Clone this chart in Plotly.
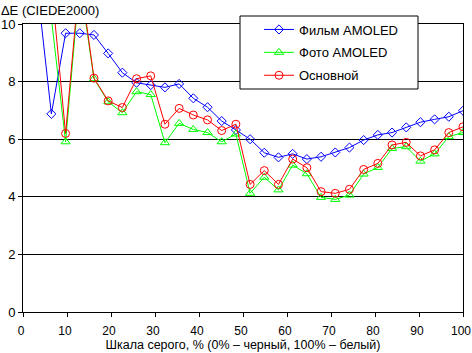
import plotly.graph_objects as go

x_vals = [100 * k / 31 for k in range(32)]

film_amoled = [12.0, 11.3, 6.88, 9.68, 9.68, 9.62, 8.98, 8.31, 7.96, 7.88,
               7.80, 7.92, 7.42, 7.11, 6.63, 6.32, 6.00, 5.53, 5.37, 5.49,
               5.31, 5.39, 5.54, 5.71, 5.97, 6.15, 6.23, 6.41, 6.59, 6.69,
               6.78, 6.99]
foto_amoled = [12.0, 12.0, 10.2, 5.91, 11.5, 8.10, 7.30, 6.92, 7.65, 7.55,
               5.88, 6.55, 6.34, 6.23, 5.91, 6.18, 4.12, 4.68, 4.24, 5.10,
               4.80, 3.98, 3.91, 4.06, 4.79, 5.02, 5.68, 5.74, 5.24, 5.49,
               6.09, 6.23]
osnovnoy = [12.0, 12.0, 11.4, 6.20, 11.7, 8.12, 7.33, 7.10, 8.10, 8.20,
            6.52, 7.07, 6.84, 6.67, 6.30, 6.52, 4.43, 4.91, 4.43, 5.31,
            5.01, 4.18, 4.12, 4.26, 4.95, 5.16, 5.80, 5.89, 5.42, 5.63,
            6.23, 6.43]

series = [
    ("Фильм AMOLED", film_amoled, "#0000FF", "diamond-open", 7),
    ("Фото AMOLED", foto_amoled, "#00FF00", "triangle-up-open", 8),
    ("Основной", osnovnoy, "#FF0000", "circle-open", 8),
]

fig = go.Figure()
for i, (name, vals, color, sym, size) in enumerate(series):
    fig.add_trace(go.Scatter(
        x=x_vals, y=vals, name=name, mode="lines+markers", legendgroup=f"g{i}",
        line=dict(color=color, width=1),
        marker=dict(symbol=sym, size=size, color=color, line=dict(color=color, width=1)),
    ))

font_family = "Liberation Sans, Arial, sans-serif"

L, R, T, B = 23, 9, 24, 41
W, H = 472, 353
pw, ph = W - L - R, H - T - B


def px_x(p):
    return (p - L) / pw


def px_y(p):
    return (H - B - p) / ph


fig.add_shape(type="rect", xref="paper", yref="paper",
              x0=px_x(240), x1=px_x(418), y0=px_y(89), y1=px_y(16),
              fillcolor="white", line=dict(color="black", width=1), layer="above")

fig.update_layout(
    width=W, height=H,
    margin=dict(l=L, r=R, t=T, b=B, autoexpand=False),
    paper_bgcolor="white", plot_bgcolor="white",
    font=dict(family=font_family, size=13, color="black"),
    title=dict(text="ΔE (CIEDE2000)", x=0.002, xref="container", xanchor="left",
               y=1 - 10 / 353, yref="container", yanchor="middle",
               font=dict(size=13, family=font_family, color="black")),
    showlegend=True,
    legend=dict(
        x=px_x(259), y=px_y(14.5), xanchor="left", yanchor="top",
        bgcolor="rgba(0,0,0,0)", borderwidth=0,
        font=dict(size=13, family=font_family, color="black"),
        tracegroupgap=3,
    ),
    xaxis=dict(
        range=[0, 100], dtick=10, tick0=0, showgrid=False,
        showline=True, linecolor="black", linewidth=1, mirror=True,
        ticks="outside", ticklen=4, tickcolor="black",
        zeroline=False, automargin=False, ticklabeloverflow="allow",
        ticklabelstandoff=4, ticklabelshift=-2, tickfont=dict(size=12),
        title=dict(text="Шкала серого, % (0% – черный, 100% – белый)",
                   font=dict(size=12.5), standoff=1),
    ),
    yaxis=dict(
        range=[0, 10], dtick=2, tick0=0, showgrid=True, gridcolor="black", gridwidth=1,
        showline=True, linecolor="black", linewidth=1, mirror=True,
        ticks="outside", ticklen=4, tickcolor="black",
        tickfont=dict(size=13),
        zeroline=False, automargin=False, ticklabeloverflow="allow",
    ),
)

fig.write_html("out.html")
